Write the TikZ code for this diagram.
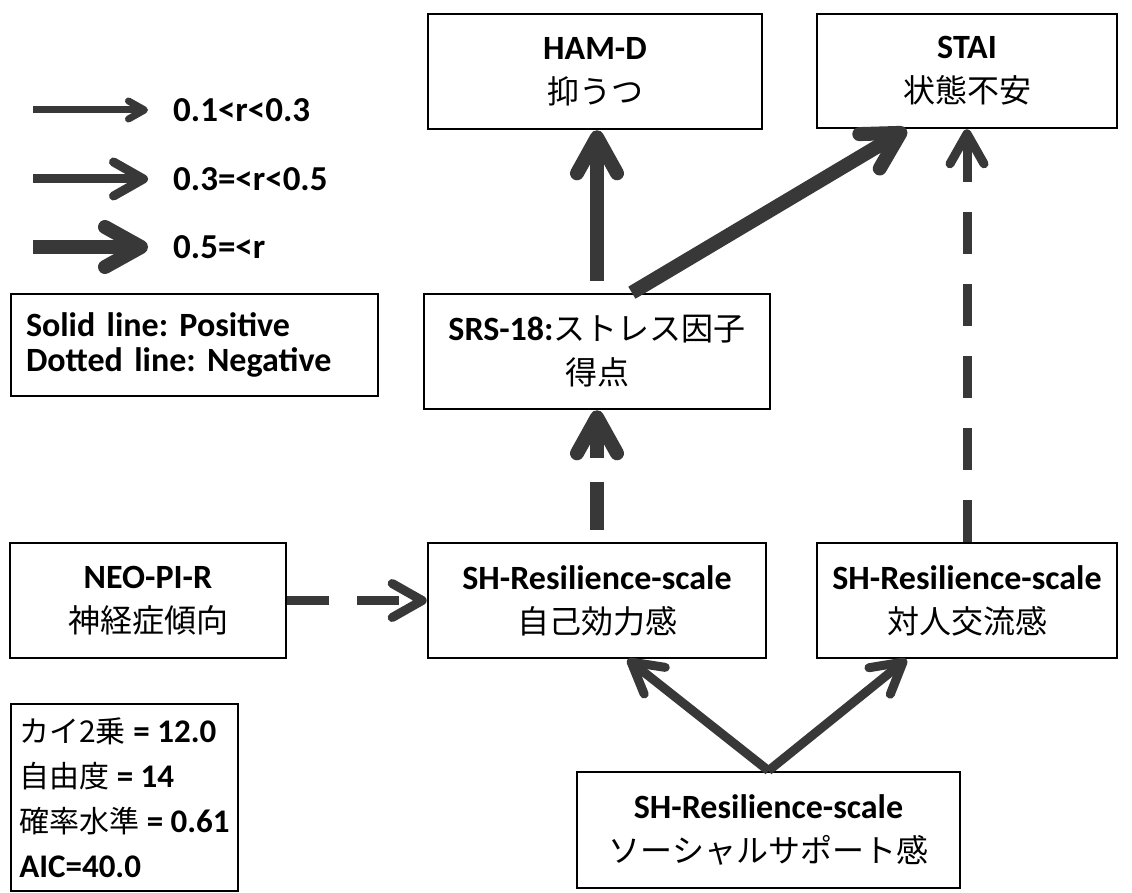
\documentclass[tikz,border=0pt]{standalone}
\usepackage{fontspec}
\setmainfont{Carlito}
\newfontfamily\jpfont{Noto Sans CJK JP}
\newcommand\jtext[1]{{\jpfont\mdseries\fontsize{32}{44}\selectfont #1}}
\newcommand\jstat[1]{{\jpfont\mdseries\fontsize{30}{45}\selectfont #1}}
\usetikzlibrary{arrows.meta,calc}
\definecolor{arrowgray}{gray}{0.22}
\frenchspacing
\begin{document}
\begin{tikzpicture}[x=1pt,y=-1pt,
  box/.style={draw=black, line width=2.6pt, inner sep=0pt, align=center,
    font=\fontsize{34}{44}\selectfont\bfseries},
  infobox/.style={draw=black, line width=2pt, anchor=north west, align=left,
    inner xsep=15pt, inner ysep=0pt, font=\bfseries},
  weak/.style={draw=arrowgray, line width=7pt, -{Straight Barb[length=16pt,width=18pt,round]}},
  mid/.style={draw=arrowgray, line width=9pt, -{Straight Barb[length=30pt,width=34pt,round]}},
  strong/.style={draw=arrowgray, line width=14pt, -{Straight Barb[length=36pt,width=40pt,round]}},
  legtext/.style={anchor=west, inner sep=0pt, font=\fontsize{35}{40}\selectfont\bfseries},
]
\useasboundingbox (0,0) rectangle (1132,893);
\fill[white] (0,0) rectangle (1132,893);

% main boxes
\node[box, minimum width=334, minimum height=115] (ham) at (595,71.5) {HAM-D\\\jtext{抑うつ}};
\node[box, minimum width=300, minimum height=114] (stai) at (967,71) {STAI\\\jtext{状態不安}};
\node[box, minimum width=346, minimum height=115] (srs) at (597,351.5) {SRS-18:\jtext{ストレス因子}\\\jtext{得点}};
\node[box, minimum width=276, minimum height=115] (neo) at (148,600.5) {NEO-PI-R\\\jtext{神経症傾向}};
\node[box, minimum width=338, minimum height=115] (jiko) at (597,600.5) {SH-Resilience-scale\\\jtext{自己効力感}};
\node[box, minimum width=300, minimum height=115] (taijin) at (967,600.5) {SH-Resilience-scale\\\jtext{対人交流感}};
\node[box, minimum width=383, minimum height=116] (social) at (768.5,830) {SH-Resilience-scale\\\jtext{ソーシャルサポート感}};

% connectors
\draw[strong, shorten <=12pt] (srs.north) -- (srs.north |- ham.south);
\draw[strong] ($(srs.north west)!0.6!(srs.north east)$) -- ($(stai.south west)!0.3!(stai.south east)$);
\draw[strong, dash pattern=on 48pt off 24pt, shorten <=12pt] (jiko.north) -- (srs.south);
\draw[mid, dash pattern=on 42pt off 28pt] (neo.east) -- (jiko.west);
\draw[mid, dash pattern=on 42pt off 30pt] (taijin.north) -- (stai.south);
\draw[mid] (social.north) -- ($(jiko.south west)!0.59!(jiko.south east)$);
\draw[mid] (social.north) -- ($(taijin.south west)!0.3!(taijin.south east)$);

% legend arrows
\coordinate (l1a) at (33,110); \coordinate (l1b) at (148,110);
\coordinate (l2a) at (33,179); \coordinate (l2b) at (148,179);
\coordinate (l3a) at (33,247); \coordinate (l3b) at (148,247);
\draw[weak] (l1a) -- (l1b);
\draw[mid] (l2a) -- (l2b);
\draw[strong] (l3a) -- (l3b);
\node[legtext] (t1) at (173,110) {0.1<r<0.3};
\node[legtext] (t2) at (173,179) {0.3=<r<0.5};
\node[legtext] (t3) at (173,247) {0.5=<r};

% legend box
\node[infobox, text width=337, minimum height=102, font=\fontsize{34}{35}\selectfont\bfseries] (leg) at (10,293)
  {Solid line: Positive\\Dotted line: Negative};

% fit statistics
\node[infobox, inner xsep=0pt, minimum width=227, minimum height=187, font=\fontsize{33}{45}\selectfont\bfseries] (stats) at (10,703)
  {\jstat{カイ2乗} = 12.0\\\jstat{自由度} = 14\\\jstat{確率水準} = 0.61\\AIC=40.0};
\end{tikzpicture}
\end{document}
